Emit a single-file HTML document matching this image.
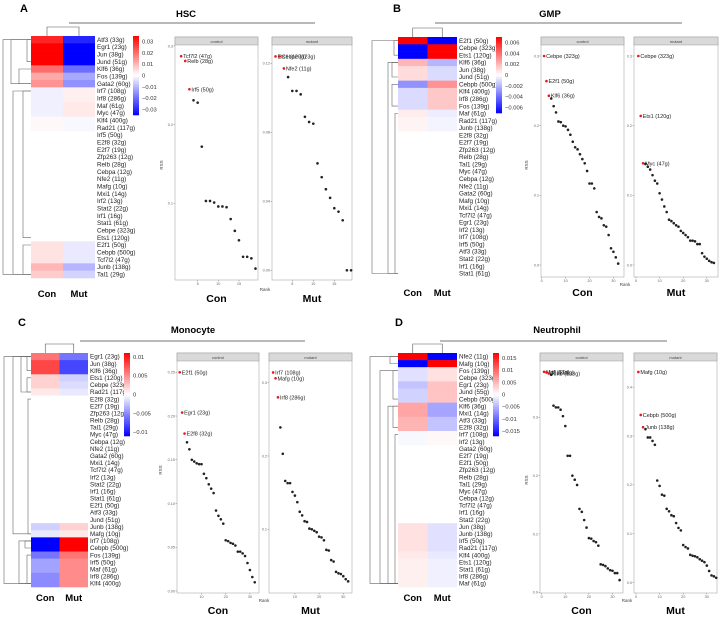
<!DOCTYPE html>
<html><head><meta charset="utf-8"><style>
html,body{margin:0;padding:0;background:#fff}
svg{display:block;font-family:"Liberation Sans",sans-serif}
</style></head><body>
<svg id="fig" width="720" height="618" viewBox="0 0 720 618" xmlns="http://www.w3.org/2000/svg"></svg>
<script>
// ---------- DATA ----------
const hscGenes=["Atf3 (33g)","Egr1 (23g)","Jun (38g)","Jund (51g)","Klf6 (36g)","Fos (139g)","Gata2 (60g)","Irf7 (108g)","Irf8 (286g)","Maf (61g)","Myc (47g)","Klf4 (400g)","Rad21 (117g)","Irf5 (50g)","E2f8 (32g)","E2f7 (19g)","Zfp263 (12g)","Relb (28g)","Cebpa (12g)","Nfe2 (11g)","Mafg (10g)","Mxi1 (14g)","Irf2 (13g)","Stat2 (22g)","Irf1 (16g)","Stat1 (61g)","Cebpe (323g)","Ets1 (120g)","E2f1 (50g)","Cebpb (500g)","Tcf7l2 (47g)","Junb (138g)","Tal1 (29g)"];
const hscCon=[.03,.035,.035,.035,.02,.012,.015,-.002,-.002,-.002,-.002,.001,.001,0,0,0,0,0,0,0,0,0,0,0,0,0,0,0,.004,.004,.004,.01,.007];
const hscMut=[-.03,-.035,-.035,-.035,-.02,-.012,-.015,.002,.002,.003,.003,-.001,-.001,0,0,0,0,0,0,0,0,0,0,0,0,0,0,0,-.003,-.003,-.003,-.01,-.006];
const gmpGenes=["E2f1 (50g)","Cebpe (323g)","Ets1 (120g)","Klf6 (36g)","Jun (38g)","Jund (51g)","Cebpb (500g)","Klf4 (400g)","Irf8 (286g)","Fos (139g)","Maf (61g)","Rad21 (117g)","Junb (138g)","E2f8 (32g)","E2f7 (19g)","Zfp263 (12g)","Relb (28g)","Tal1 (29g)","Myc (47g)","Cebpa (12g)","Nfe2 (11g)","Gata2 (60g)","Mafg (10g)","Mxi1 (14g)","Tcf7l2 (47g)","Egr1 (23g)","Irf2 (13g)","Irf7 (108g)","Irf5 (50g)","Atf3 (33g)","Stat2 (22g)","Irf1 (16g)","Stat1 (61g)"];
const gmpCon=[.007,-.007,-.007,.002,.001,.001,-.003,-.001,-.001,-.001,.0005,.0003,.0003,0,0,0,0,0,0,0,0,0,0,0,0,0,0,0,0,0,0,0,0];
const gmpMut=[-.007,.007,.007,-.002,-.001,-.001,.003,.0015,.0015,.0015,-.0005,-.0003,-.0003,0,0,0,0,0,0,0,0,0,0,0,0,0,0,0,0,0,0,0,0];
const monoGenes=["Egr1 (23g)","Jun (38g)","Klf6 (36g)","Ets1 (120g)","Cebpe (323g)","Rad21 (117g)","E2f8 (32g)","E2f7 (19g)","Zfp263 (12g)","Relb (28g)","Tal1 (29g)","Myc (47g)","Cebpa (12g)","Nfe2 (11g)","Gata2 (60g)","Mxi1 (14g)","Tcf7l2 (47g)","Irf2 (13g)","Stat2 (22g)","Irf1 (16g)","Stat1 (61g)","E2f1 (50g)","Atf3 (33g)","Jund (51g)","Junb (138g)","Mafg (10g)","Irf7 (108g)","Cebpb (500g)","Fos (139g)","Irf5 (50g)","Maf (61g)","Irf8 (286g)","Klf4 (400g)"];
const monoCon=[.006,.008,.008,.002,.002,.001,0,0,0,0,0,0,0,0,0,0,0,0,0,0,0,0,0,0,-.002,-.001,-.011,-.011,-.006,-.004,-.004,-.005,-.005];
const monoMut=[-.006,-.008,-.008,-.002,-.0015,-.001,0,0,0,0,0,0,0,0,0,0,0,0,0,0,0,0,0,0,.002,.001,.011,.011,.006,.005,.005,.005,.005];
const neuGenes=["Nfe2 (11g)","Mafg (10g)","Fos (139g)","Cebpe (323g)","Egr1 (23g)","Jund (55g)","Cebpb (500g)","Klf6 (36g)","Mxi1 (14g)","Atf3 (33g)","E2f8 (32g)","Irf7 (108g)","Irf2 (13g)","Gata2 (60g)","E2f7 (19g)","E2f1 (50g)","Zfp263 (12g)","Relb (28g)","Tal1 (29g)","Myc (47g)","Cebpa (12g)","Tcf7l2 (47g)","Irf1 (16g)","Stat2 (22g)","Jun (38g)","Junb (138g)","Irf5 (50g)","Rad21 (117g)","Klf4 (400g)","Ets1 (120g)","Stat1 (61g)","Irf8 (286g)","Maf (61g)"];
const neuCon=[.017,-.017,-.002,-.002,-.004,-.003,-.003,.006,.006,.005,.005,-.0005,-.0005,0,0,0,0,0,0,0,0,0,0,0,.002,.002,.002,.002,.0015,.001,.001,.001,.001];
const neuMut=[-.017,.017,.002,.002,.004,.004,.004,-.006,-.006,-.004,-.004,.0005,.0005,0,0,0,0,0,0,0,0,0,0,0,-.002,-.002,-.002,-.002,-.0015,-.001,-.001,-.001,-.001];

const hscCtrlRSS=[.287,.281,.245,.231,.228,.172,.103,.103,.101,.096,.096,.095,.080,.065,.053,.032,.032,.030,.017];
const hscCtrlLab=["Tcf7l2 (47g)","Relb (28g)","Irf5 (50g)"];
const hscMutRSS=[.124,.124,.117,.112,.104,.104,.102,.089,.086,.085,.062,.054,.047,.042,.036,.034,.029,.000,.000];
const hscMutLab=["Ets1 (120g)","Cebpe (323g)","Nfe2 (11g)"];
const gmpCtrlRSS=[.300,.264,.243,.239,.228,.219,.206,.205,.200,.199,.194,.187,.177,.169,.166,.159,.152,.146,.135,.117,.117,.110,.076,.069,.067,.057,.055,.043,.024,.019,.011,.002];
const gmpCtrlLab=["Cebpe (323g)","E2f1 (50g)","Klf6 (36g)"];
const gmpMutRSS=[.300,.214,.146,.145,.141,.137,.129,.121,.117,.103,.094,.084,.076,.065,.063,.060,.057,.055,.049,.046,.043,.040,.035,.035,.034,.030,.030,.017,.012,.009,.006,.004,.003];
const gmpMutLab=["Cebpe (323g)","Ets1 (120g)","Myc (47g)"];
const monoCtrlRSS=[.250,.204,.180,.170,.162,.150,.148,.146,.145,.145,.134,.129,.122,.117,.112,.092,.086,.082,.077,.058,.057,.055,.054,.052,.045,.045,.043,.040,.032,.024,.016,.010];
const monoCtrlLab=["E2f1 (50g)","Egr1 (23g)","E2f8 (32g)"];
const monoMutRSS=[.314,.306,.280,.239,.203,.166,.163,.163,.151,.146,.137,.124,.119,.111,.110,.101,.100,.098,.096,.090,.089,.085,.072,.071,.058,.056,.042,.040,.039,.036,.032,.029];
const monoMutLab=["Irf7 (108g)","Mafg (10g)","Irf8 (286g)"];
const neuCtrlRSS=[.378,.377,.375,.373,.320,.317,.317,.313,.302,.285,.234,.234,.200,.193,.184,.143,.138,.124,.111,.093,.092,.088,.086,.080,.048,.047,.045,.041,.038,.037,.033,.033,.021];
const neuCtrlLab=["Maf (61g)","Irf8 (286g)","Junb (138g)"];
const neuMutRSS=[.431,.343,.318,.314,.297,.297,.290,.282,.209,.198,.180,.178,.151,.146,.138,.136,.122,.112,.107,.077,.073,.070,.057,.055,.054,.052,.048,.045,.042,.035,.024,.015,.013,.010];
const neuMutLab=["Mafg (10g)","Cebpb (500g)","Junb (138g)"];

const hscBarTicks=[0.03,0.02,0.01,0,-0.01,-0.02,-0.03];
const gmpBarTicks=[0.006,0.004,0.002,0,-0.002,-0.004,-0.006];
const monoBarTicks=[0.01,0.005,0,-0.005,-0.01];
const neuBarTicks=[0.015,0.01,0.005,0,-0.005,-0.01,-0.015];

// ---------- DRAW ----------
const NS="http://www.w3.org/2000/svg";
const svg=document.getElementById('fig');
function mk(tag,attrs,parent,txt){const e=document.createElementNS(NS,tag);for(const k in attrs)e.setAttribute(k,attrs[k]);if(txt!==undefined)e.textContent=txt;(parent||svg).appendChild(e);return e;}
function col(v,m){let t=Math.max(-1,Math.min(1,v/m));if(t>=0){const c=Math.round(255*(1-t));return `rgb(255,${c},${c})`;}const c=Math.round(255*(1+t));return `rgb(${c},${c},255)`;}
function lin(v0,p0,v1,p1){return v=>p0+(v-v0)*(p1-p0)/(v1-v0);}

function heatmap(o){
  const g=mk('g',{});
  
  
  const n=o.genes.length, rh=(o.y1-o.y0)/n, cw=(o.x1-o.x0)/2;
  o.genes.forEach((gn,i)=>{
    const y=o.y0+i*rh;
    const a=mk('rect',{x:o.x0,y:y,width:cw+0.3,height:rh+0.3,fill:col(o.con[i],o.max)},g);
    
    const b=mk('rect',{x:o.x0+cw,y:y,width:cw,height:rh+0.3,fill:col(o.mut[i],o.max)},g);
    
    const t=mk('text',{x:o.x1+2,y:y+rh/2+2.2,'font-size':6.3,fill:'#222'},g,gn);
    
  });
  const c1=o.x0+cw/2,c2=o.x0+cw*1.5;
  mk('path',{d:`M${c1} ${o.y0}V${o.y0-9}H${c2}V${o.y0}`,stroke:'#555','stroke-width':0.6,fill:'none'},g);
  const rc=i=>o.y0+(i+0.5)*rh;
  o.tree.forEach(([a,b,d])=>{
    const x=o.x0-d;
    mk('path',{d:`M${o.x0} ${rc(a)}H${x}V${rc(b)}H${o.x0}`,stroke:'#666','stroke-width':0.6,fill:'none'},g);
  });
  const cb=mk('g',{},g);
  const N=40,h=(o.cb1-o.cb0)/N;
  for(let i=0;i<N;i++){const v=o.max*(1-2*(i+0.5)/N);mk('rect',{x:o.cbx,y:o.cb0+i*h,width:6,height:h+0.3,fill:col(v,o.max)},cb);}
  const sy=lin(o.max,o.cb0,-o.max,o.cb1);
  o.ticks.forEach(t=>{const l=mk('text',{x:o.cbx+9,y:sy(t)+2,'font-size':5.8,fill:'#333'},cb,t===0?'0':(t<0?'\u2212'+(-t):''+t));});
  const cl=mk('text',{x:o.x0+cw/2,y:o.labY,'font-size':9.5,'font-weight':'bold','text-anchor':'middle'},g,'Con');
  const ml=mk('text',{x:o.x0+cw*1.5,y:o.labY,'font-size':9.5,'font-weight':'bold','text-anchor':'middle'},g,'Mut');
}

function scatter(o){
  const g=mk('g',{});
  
  
  mk('rect',{x:o.x0,y:o.y0,width:o.x1-o.x0,height:o.y1-o.y0,fill:'#fff',stroke:'#999','stroke-width':0.5},g);
  const st=mk('rect',{x:o.x0,y:o.y0,width:o.x1-o.x0,height:8,fill:'#d9d9d9',stroke:'#999','stroke-width':0.5},g);
  
  const sl=mk('text',{x:(o.x0+o.x1)/2,y:o.y0+5.8,'font-size':4,fill:'#444','text-anchor':'middle'},g,o.strip);
  
  const sx=v=>o.rx0+v*o.rstep;
  const sy=lin(o.v0,o.p0,o.v1,o.p1);
  o.yt.forEach(t=>{const y=sy(t);if(y<o.y0+8||y>o.y1)return;mk('line',{x1:o.x0-1.5,x2:o.x0,y1:y,y2:y,stroke:'#666','stroke-width':0.4},g);const l=mk('text',{x:o.x0-2,y:y+1.3,'font-size':3.8,fill:'#666','text-anchor':'end'},g,t.toFixed(o.dec));});
  o.xt.forEach(t=>{const x=sx(t);mk('line',{x1:x,x2:x,y1:o.y1,y2:o.y1+1.5,stroke:'#666','stroke-width':0.4},g);const l=mk('text',{x:x,y:o.y1+5,'font-size':3.8,fill:'#666','text-anchor':'middle'},g,''+t);});
  o.vals.forEach((v,i)=>{
    const red=i<o.labs.length;
    const p=mk('circle',{cx:sx(i+1),cy:sy(v),r:1.3,fill:red?'#e41a1c':'#222'},g);
    
    if(red){const l=mk('text',{x:sx(i+1)+2,y:sy(v)+2,'font-size':5.5,fill:'#222'},g,o.labs[i]);}
  });
  const b=mk('text',{x:(o.x0+o.x1)/2,y:o.bigY,'font-size':10.5,'font-weight':'bold','text-anchor':'middle'},g,o.big);
  
}

function header(L,lx,ly,title,tx,ty,l0,l1,ly2){
  const a=mk('text',{x:lx,y:ly,'font-size':11,'font-weight':'bold','text-anchor':'middle'},svg,L);
  
  const t=mk('text',{x:tx,y:ty,'font-size':9.5,'font-weight':'bold','text-anchor':'middle'},svg,title);
  
  const l=mk('line',{x1:l0,x2:l1,y1:ly2,y2:ly2,stroke:'#444','stroke-width':0.8});
  
}
function axlabels(rx,ry,kx,ky){
  const r=mk('text',{x:rx,y:ry,'font-size':4.5,fill:'#444','text-anchor':'middle',transform:`rotate(-90 ${rx} ${ry})`},svg,'RSS');
  
  const k=mk('text',{x:kx,y:ky,'font-size':4.5,fill:'#444','text-anchor':'middle'},svg,'Rank');
  
}

// Panel A
header('A',24,12,'HSC',186,17,69,315,23);
heatmap({name:'hsc',genes:hscGenes,con:hscCon,mut:hscMut,max:.035,x0:31,x1:95,y0:36,y1:278,tree:[[0,3,4],[4,6,12],[0,6,20],[7,27,8],[28,32,8],[7,32,18],[0,32,28]],cbx:133,cb0:36,cb1:115,ticks:hscBarTicks,labY:297});
scatter({name:'hsc-control-rss',x0:175,x1:258,y0:37,y1:280,strip:'control',rx0:177,rstep:4.13,v0:.3,p0:46,v1:.1,p1:203.3,yt:[.1,.2,.3],dec:1,xt:[5,10,15],vals:hscCtrlRSS,labs:hscCtrlLab,big:'Con',bigY:302});
scatter({name:'hsc-mutant-rss',x0:272,x1:352,y0:37,y1:280,strip:'mutant',rx0:271.3,rstep:4.2,v0:.12,p0:63.3,v1:.04,p1:201.3,yt:[0,.04,.08,.12],dec:2,xt:[5,10,15],vals:hscMutRSS,labs:hscMutLab,big:'Mut',bigY:302});
axlabels(163,165,265,291);

// Panel B
header('B',397,12,'GMP',550,17,435,682,23);
heatmap({name:'gmp',genes:gmpGenes,con:gmpCon,mut:gmpMut,max:.007,x0:398,x1:457,y0:37,y1:277,tree:[[0,2,4],[3,5,6],[6,9,6],[10,32,3],[3,32,10],[0,32,26]],cbx:496,cb0:37,cb1:113,ticks:gmpBarTicks,labY:296});
scatter({name:'gmp-control-rss',x0:541,x1:624,y0:37,y1:277,strip:'control',rx0:541.7,rstep:2.39,v0:.3,p0:56,v1:0,p1:265,yt:[0,.1,.2,.3],dec:1,xt:[0,10,20,30],vals:gmpCtrlRSS,labs:gmpCtrlLab,big:'Con',bigY:296});
scatter({name:'gmp-mutant-rss',x0:634,x1:718,y0:37,y1:277,strip:'mutant',rx0:636,rstep:2.36,v0:.3,p0:56,v1:0,p1:265,yt:[0,.1,.2,.3],dec:1,xt:[0,10,20,30],vals:gmpMutRSS,labs:gmpMutLab,big:'Mut',bigY:296});
axlabels(528,165,625,286);

// Panel C
header('C',22,326,'Monocyte',193,333,80,305,341);
heatmap({name:'monocyte',genes:monoGenes,con:monoCon,mut:monoMut,max:.011,x0:31,x1:88,y0:353,y1:587,tree:[[0,2,4],[3,5,4],[0,5,10],[6,25,3],[0,25,18],[26,27,6],[28,32,4],[26,32,12],[0,32,27]],cbx:124,cb0:353,cb1:436,ticks:monoBarTicks,labY:601});
scatter({name:'monocyte-control-rss',x0:177,x1:259,y0:353,y1:593,strip:'control',rx0:177.3,rstep:2.42,v0:.25,p0:372.3,v1:0,p1:591,yt:[0,.05,.1,.15,.2,.25],dec:2,xt:[10,20,30],vals:monoCtrlRSS,labs:monoCtrlLab,big:'Con',bigY:614});
scatter({name:'monocyte-mutant-rss',x0:269,x1:352,y0:353,y1:593,strip:'mutant',rx0:270.7,rstep:2.42,v0:.3,p0:382.7,v1:.1,p1:529.3,yt:[.1,.2,.3],dec:1,xt:[10,20,30],vals:monoMutRSS,labs:monoMutLab,big:'Mut',bigY:614});
axlabels(162,470,264,602);

// Panel D
header('D',399,326,'Neutrophil',557,333,440,667,341);
heatmap({name:'neutrophil',genes:neuGenes,con:neuCon,mut:neuMut,max:.017,x0:398,x1:457,y0:353,y1:587,tree:[[0,1,8],[2,6,5],[7,10,5],[11,32,3],[7,32,10],[2,32,18],[0,32,28]],cbx:493,cb0:353,cb1:436,ticks:neuBarTicks,labY:601});
scatter({name:'neutrophil-control-rss',x0:540,x1:623,y0:353,y1:593,strip:'control',rx0:541.7,rstep:2.36,v0:.3,p0:417.3,v1:.1,p1:534,yt:[0,.1,.2,.3],dec:1,xt:[0,10,20,30],vals:neuCtrlRSS,labs:neuCtrlLab,big:'Con',bigY:614});
scatter({name:'neutrophil-mutant-rss',x0:634,x1:717,y0:353,y1:593,strip:'mutant',rx0:636,rstep:2.36,v0:.3,p0:436,v1:0,p1:582.7,yt:[0,.1,.2,.3,.4],dec:1,xt:[0,10,20,30],vals:neuMutRSS,labs:neuMutLab,big:'Mut',bigY:614});
axlabels(528,480,627,602);
</script>
</body></html>
